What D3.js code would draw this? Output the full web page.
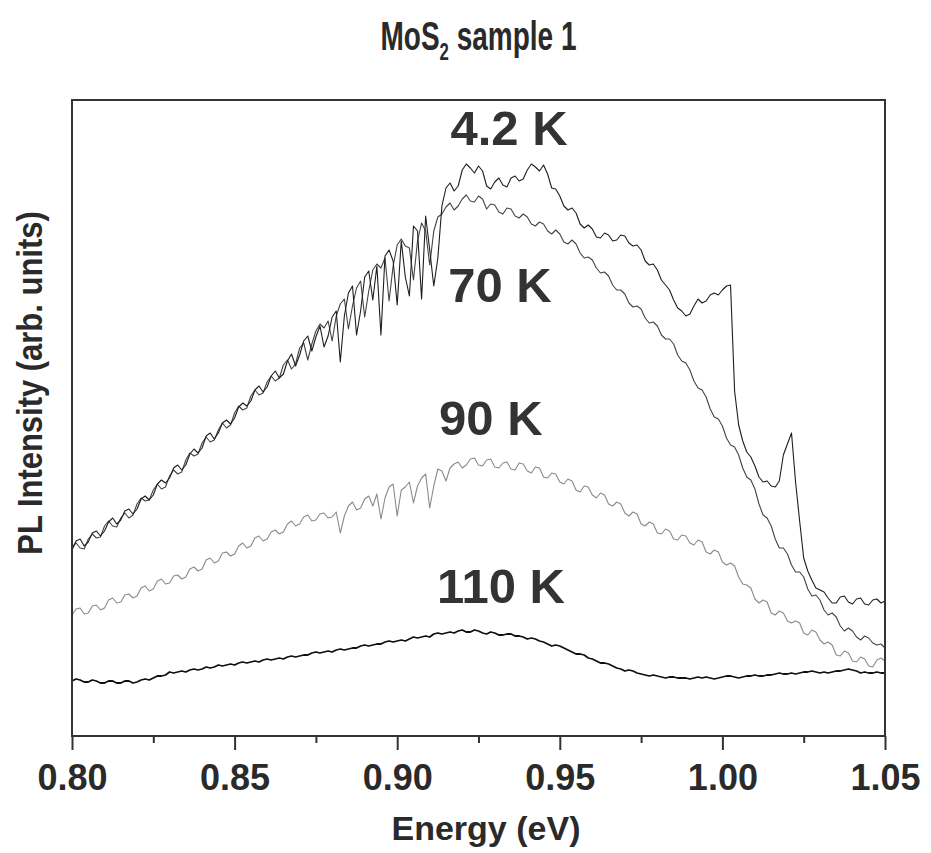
<!DOCTYPE html>
<html>
<head>
<meta charset="utf-8">
<script src="https://cdn.jsdelivr.net/npm/d3@7"></script>
<style>
  body { margin: 0; background: #fff; }
  text { font-family: "Liberation Sans", Arial, sans-serif; font-weight: bold; fill: #2a2a2a; }
</style>
</head>
<body>
<div id="chart"></div>
<script>
// energy grid, eV (step 0.00125 from 0.80 to 1.05)
var energy = d3.range(201).map(function (i) { return 0.8 + i * 0.00125; });

// PL intensity, arbitrary units
var pl4K = [186,195,197,190,194,203,205,200,205,214,
  218,212,216,225,227,222,227,237,240,236,
  241,252,256,253,258,268,271,266,271,282,
  287,283,288,300,303,297,303,313,316,312,
  318,329,333,330,335,346,350,344,349,360,
  365,358,362,375,382,370,381,395,400,385,
  399,410,389,400,419,425,374,420,443,450,
  401,425,459,465,436,470,401,480,486,475,
  431,495,459,440,510,505,437,520,486,450,
  478,530,548,553,545,550,566,572,568,563,
  570,565,550,547,554,558,551,549,558,560,
  555,557,566,572,569,565,571,562,548,547,
  540,530,526,528,523,512,508,511,507,499,
  498,503,501,495,496,501,500,493,490,491,
  486,475,471,472,466,456,451,446,436,428,
  425,420,422,430,437,433,435,441,443,441,
  446,450,451,345,311,295,284,279,270,259,
  254,255,250,249,255,281,292,303,254,215,
  178,165,156,148,146,144,138,133,133,139,
  140,134,132,137,138,132,131,136,137,133,
  135];

var pl70K = [189,193,188,187,197,202,198,199,210,215,
  210,209,218,223,218,221,232,238,235,236,
  246,252,247,249,260,266,262,264,276,283,
  280,282,293,299,294,296,306,313,308,311,
  323,330,326,328,340,346,341,343,354,360,
  355,358,371,376,367,372,388,393,376,392,
  405,412,408,415,395,420,432,437,407,430,
  448,455,419,445,466,472,468,478,435,470,
  491,497,490,488,456,495,513,505,471,505,
  519,522,529,533,526,530,537,541,535,534,
  540,537,527,532,531,524,522,528,527,520,
  518,522,519,512,510,514,512,505,502,506,
  502,494,492,496,492,483,478,479,476,468,
  463,464,460,451,446,446,442,433,429,430,
  427,418,413,414,410,401,397,397,392,381,
  375,373,366,355,348,346,339,327,319,317,
  310,298,291,289,281,268,259,256,247,232,
  221,218,210,197,188,188,182,171,164,164,
  159,147,140,141,136,126,121,123,119,110,
  105,108,105,99,96,100,98,93,91,92,
  88];

var pl90K = [121,127,128,122,123,130,131,126,128,136,
  138,133,134,141,142,138,140,148,150,145,
  147,155,157,152,153,160,161,157,159,167,
  169,165,167,176,178,173,175,183,184,180,
  182,190,193,188,190,198,200,195,197,204,
  206,202,204,212,215,210,212,219,221,215,
  216,222,223,218,219,224,203,220,230,234,
  226,228,237,240,230,242,217,238,249,252,
  220,246,249,254,233,250,258,262,228,250,
  267,265,255,268,272,274,268,271,277,278,
  271,270,276,277,269,268,273,274,267,266,
  273,272,265,263,269,268,259,258,263,262,
  254,252,257,255,246,244,250,249,241,238,
  243,241,232,230,234,232,223,220,224,222,
  212,210,214,212,203,202,207,205,197,196,
  201,200,193,191,196,194,184,182,186,184,
  174,171,173,170,159,152,151,148,137,133,
  136,134,123,121,125,123,115,113,115,113,
  103,101,106,104,96,92,94,91,81,80,
  85,83,75,74,79,77,70,69,76,78,
  75];

var pl110K = [55,57,56,54,54,56,55,53,53,55,
  55,53,53,55,55,53,54,56,57,56,
  58,60,60,61,64,63,64,65,64,66,
  67,66,67,69,68,69,71,70,71,72,
  71,73,74,73,74,75,74,76,77,76,
  77,78,77,79,80,79,80,81,81,83,
  84,83,84,85,84,86,87,86,87,88,
  88,90,91,90,91,92,92,94,95,94,
  95,96,95,97,99,98,99,100,99,102,
  103,102,103,104,103,105,106,104,104,106,
  105,103,102,104,103,101,101,102,102,100,
  100,99,97,98,97,95,94,92,90,91,
  90,88,86,84,82,82,81,78,77,75,
  73,73,72,70,68,67,65,66,65,63,
  62,61,60,61,60,59,58,59,59,58,
  58,58,57,58,59,58,59,58,57,58,
  59,60,60,59,58,59,60,60,61,60,
  60,61,61,62,63,62,62,63,62,63,
  64,64,65,64,63,64,63,64,65,65,
  66,67,66,65,63,64,63,63,64,63,
  63];

var seriesNames = ["90 K", "70 K", "4.2 K", "110 K"];
var seriesValues = [pl90K, pl70K, pl4K, pl110K];
var seriesColors = ["#8a8a8a", "#444444", "#1e1e1e", "#111111"];
var seriesWidths = [1.1, 1.1, 1.1, 1.8];

// label anchor points [energy, intensity]
var labelPos = [[0.9288, 301], [0.9316, 434], [0.9344, 591], [0.9319, 133]];

var majorTicks = [0.80, 0.85, 0.90, 0.95, 1.00, 1.05];
var minorTicks = [0.825, 0.875, 0.925, 0.975, 1.025];

var W = 931, H = 853;
var margin = { top: 100, right: 46, bottom: 117, left: 72 },
  width = W - margin.left - margin.right,
  height = H - margin.top - margin.bottom;

var svg = d3.select("#chart").append("svg")
  .attr("width", W)
  .attr("height", H);

var g = svg.append("g")
  .attr("transform", "translate(" + margin.left + "," + margin.top + ")");

var x = d3.scaleLinear().domain([0.80, 1.05]).range([0, width]);
var y = d3.scaleLinear().domain([0, 636]).range([height, 0]);

var line = d3.line()
  .x(function (d) { return x(d[0]); })
  .y(function (d) { return y(d[1]); });

seriesValues.forEach(function (vals, k) {
  var pts = vals.map(function (v, i) { return [energy[i], v]; });
  g.append("path")
    .datum(pts)
    .attr("fill", "none")
    .attr("stroke", seriesColors[k])
    .attr("stroke-width", seriesWidths[k])
    .attr("stroke-linejoin", "round")
    .attr("d", line);
});

// curve labels
g.selectAll(".lbl")
  .data(seriesNames)
  .enter().append("text")
  .attr("class", "lbl")
  .attr("x", function (d, i) { return x(labelPos[i][0]); })
  .attr("y", function (d, i) { return y(labelPos[i][1]); })
  .attr("text-anchor", "middle")
  .style("font-size", "49px")
  .style("fill", "#333")
  .text(function (d) { return d; });

// frame
g.append("rect")
  .attr("width", width)
  .attr("height", height)
  .attr("fill", "none")
  .attr("stroke", "#333")
  .attr("stroke-width", 2);

// x axis: major + minor ticks, outward
var xAxis = g.append("g")
  .attr("transform", "translate(0," + height + ")")
  .call(d3.axisBottom(x).tickValues(majorTicks).tickSize(14).tickPadding(14)
    .tickFormat(d3.format(".2f")));
xAxis.select(".domain").remove();
xAxis.selectAll("line").attr("stroke", "#333").attr("stroke-width", 2);
xAxis.selectAll("text")
  .style("font-size", "36px")
  .style("font-family", "'Liberation Sans', Arial, sans-serif")
  .style("font-weight", "bold")
  .attr("fill", "#2a2a2a");

var xMinor = g.append("g")
  .attr("transform", "translate(0," + height + ")")
  .call(d3.axisBottom(x).tickValues(minorTicks).tickSize(7).tickFormat(""));
xMinor.select(".domain").remove();
xMinor.selectAll("line").attr("stroke", "#333").attr("stroke-width", 2);

// axis titles
svg.append("text")
  .attr("x", 486)
  .attr("y", 840)
  .attr("text-anchor", "middle")
  .style("font-size", "34px")
  .text("Energy (eV)");

svg.append("text")
  .attr("transform", "translate(42,383) rotate(-90) scale(0.885,1)")
  .attr("text-anchor", "middle")
  .style("font-size", "35px")
  .text("PL Intensity (arb. units)");

// title with subscript, condensed like the original
var title = svg.append("text")
  .attr("transform", "translate(" + (margin.left + width / 2) + ",50) scale(0.7,1)")
  .attr("text-anchor", "middle")
  .style("font-size", "40px");
title.append("tspan").text("MoS");
title.append("tspan").attr("dy", 10).style("font-size", "24px").text("2");
title.append("tspan").attr("dy", -10).text(" sample 1");
</script>
</body>
</html>
